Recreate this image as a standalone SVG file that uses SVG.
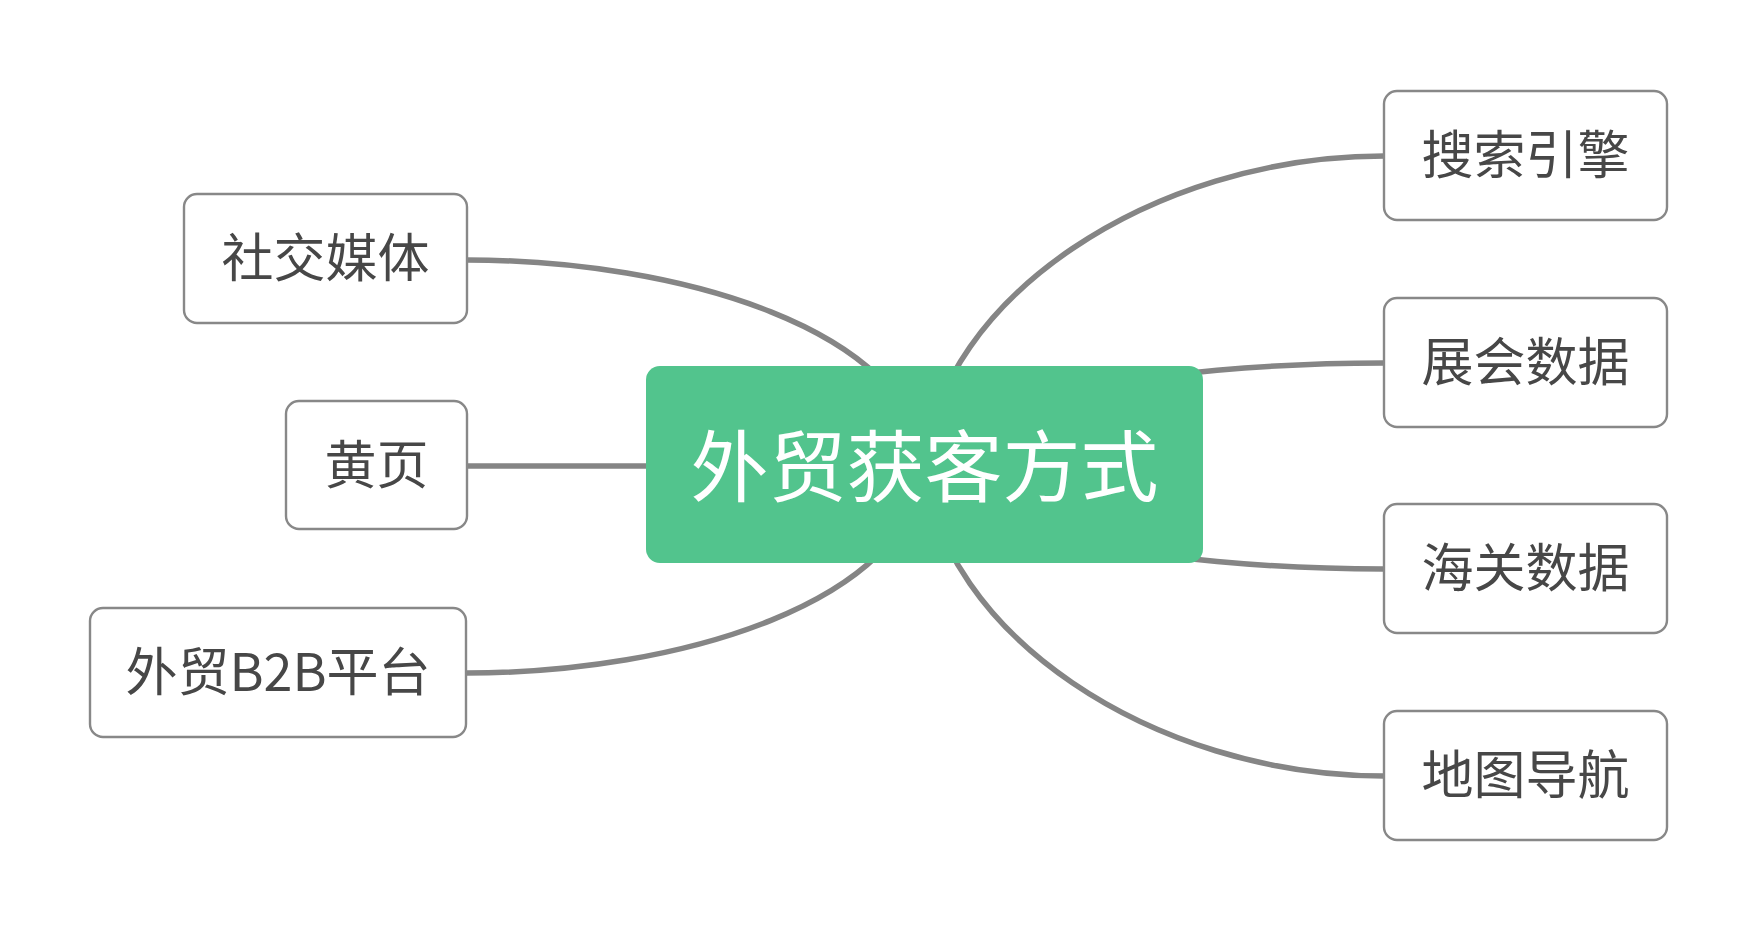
<svg xmlns="http://www.w3.org/2000/svg" width="1755" height="930" viewBox="0 0 1755 930">
<style>
.bg{fill:#ffffff}
.conn{fill:none;stroke:#858585;stroke-width:5.5;stroke-linecap:butt}
.child rect{fill:#ffffff;stroke:#888888;stroke-width:2.4}
.child text{font-family:"Noto Sans CJK SC","Liberation Sans",sans-serif;font-size:52px;fill:#474747;text-anchor:middle}
.root rect{fill:#52c48d}
.root text{font-family:"Noto Sans CJK SC","Liberation Sans",sans-serif;font-size:78px;fill:#ffffff;text-anchor:middle}
</style>
<rect class="bg" x="0" y="0" width="1755" height="930"/>
<g id="connectors">
<path class="conn" d="M924.5,465 C912,330 680,260 467,260"/>
<path class="conn" d="M924.5,466 L467,466"/>
<path class="conn" d="M924.5,465 C912,602 680,673 467,673"/>
<path class="conn" d="M924.5,465 C940,300 1150,156 1384,156"/>
<path class="conn" d="M924.5,465 C938,404 1154,363 1384,363"/>
<path class="conn" d="M924.5,465 C938,527 1154,569 1384,569"/>
<path class="conn" d="M924.5,465 C940,631 1150,776 1384,776"/>
</g>
<g id="root" class="root">
<rect x="646" y="366" width="557" height="197" rx="14"/>
<text x="924.5" y="496">外贸获客方式</text>
</g>
<g id="n-social" class="child">
<rect x="184" y="194" width="283" height="129" rx="13"/>
<text x="325.5" y="277">社交媒体</text>
</g>
<g id="n-yellowpages" class="child">
<rect x="286" y="401" width="181" height="128" rx="13"/>
<text x="376.5" y="484">黄页</text>
</g>
<g id="n-b2b" class="child">
<rect x="90" y="608" width="376" height="129" rx="13"/>
<text x="278" y="691">外贸B2B平台</text>
</g>
<g id="n-search" class="child">
<rect x="1384" y="91" width="283" height="129" rx="13"/>
<text x="1525.5" y="174">搜索引擎</text>
</g>
<g id="n-expo" class="child">
<rect x="1384" y="298" width="283" height="129" rx="13"/>
<text x="1525.5" y="381">展会数据</text>
</g>
<g id="n-customs" class="child">
<rect x="1384" y="504" width="283" height="129" rx="13"/>
<text x="1525.5" y="587">海关数据</text>
</g>
<g id="n-map" class="child">
<rect x="1384" y="711" width="283" height="129" rx="13"/>
<text x="1525.5" y="794">地图导航</text>
</g>
</svg>
